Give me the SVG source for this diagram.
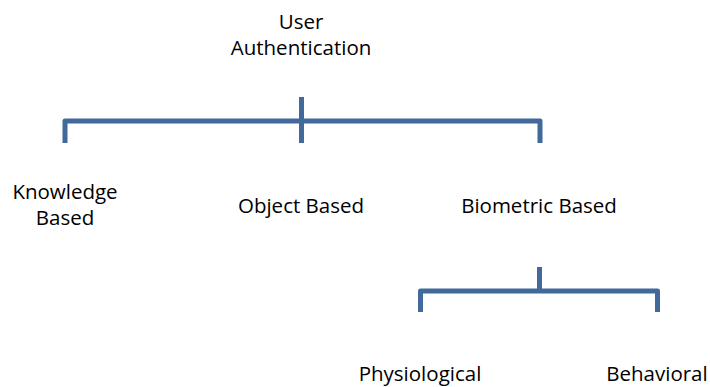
<svg xmlns="http://www.w3.org/2000/svg" width="710" height="387" viewBox="0 0 710 387">
<style>
text{font-family:"Open Sans","Liberation Sans",sans-serif;font-size:20.5px;fill:#000;text-anchor:middle}
.c{fill:none;stroke:#41699C;stroke-width:5;stroke-linejoin:round}
</style>
<rect width="710" height="387" fill="#fff"/>
<g id="connectors">
<path class="c" d="M65,143 V121 H540 V143"/>
<path class="c" d="M301.5,97 V143"/>
<path class="c" d="M420.5,312 V291 H657.5 V312"/>
<path class="c" d="M539.5,267 V291"/>
</g>
<g id="root"><text x="301" y="29">User</text><text x="301" y="55">Authentication</text></g>
<g id="knowledge"><text x="65" y="199">Knowledge</text><text x="65" y="225">Based</text></g>
<g id="object"><text x="301" y="213">Object Based</text></g>
<g id="biometric"><text x="539" y="213">Biometric Based</text></g>
<g id="physiological"><text x="420" y="381">Physiological</text></g>
<g id="behavioral"><text x="657" y="381">Behavioral</text></g>
</svg>
